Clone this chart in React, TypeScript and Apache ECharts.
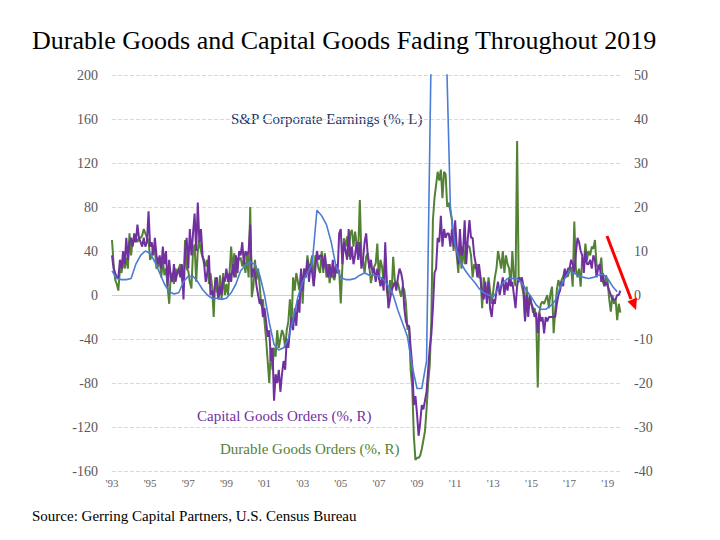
import React, { useEffect, useRef } from "react";
import * as echarts from "echarts";

// ---------- data ----------
const START_YEAR = 1993;
const X_MAX = 2019.7;
const xTickYears = [1993, 1995, 1997, 1999, 2001, 2003, 2005, 2007, 2009, 2011, 2013, 2015, 2017, 2019];

// S&P corporate earnings, % y/y (left axis), quarterly from 1993 Q1
const spEarnings = [
  22, 15, 14, 14,
  15, 28, 36, 40,
  38, 30, 20, 10,
  3, 1, 2, 12,
  17, 17, 12, 5,
  0, -3, -3, -4,
  -3, 2, 10, 22,
  27, 30, 28, 18,
  0, -25, -45, -50,
  -48, -40, -22, -2,
  12, 20, 28, 77,
  72, 64, 48, 26,
  16, 14, 14, 15,
  18, 20, 18, 18,
  17, 14, 8, 0,
  -14, -26, -38, -65,
  -85, -85, -60, 230,
  500, 450, 250, 80,
  45, 31, 23, 17,
  12, 6, 2, 0,
  -1.5, 5, 11, 15,
  15, 15, 11, 4,
  -2, -9, -13, -13,
  -10, -5, 7, 15,
  22, 20, 17, 16,
  15, 16, 18, 19,
  15, 8, 3,
];

// Capital goods orders, % y/y (right axis), monthly from Jan 1993
const capitalGoods = [
  9, 6, 5, 4, 4, 8, 6, 10, 7, 13, 8, 12,
  13, 11, 14, 12, 16, 13, 12, 11, 13, 11, 12, 19,
  11, 12, 9, 13, 9, 7, 9, 6, 11, 7, 10, 2,
  8, 4, 3, 7, 3, 5, 6, 4, 7, -1, 10, 13,
  6, 15, 9, 14, 18.5, 10, 21, 12, 15, 9, 7, 3,
  5, 9, 0, 1, -0.5, 3, 4, -1, 2, 0, 4, 3,
  6, 3, 5, 3, 7, 4, 9, 5, 10, 9, 12, 7,
  10, 9, 10, 16, 4, 6, 5, 2, 0, -2, -1, -5,
  -3, -6, -9.5, -8, -15, -12, -24, -18, -20, -17, -22, -18,
  -15, -17, -10, -12, -8, -5, -8, -3, -7, -1, -4, 6,
  1, 6, 4, 8, 3, 7, 5, 2, 6, 10, 8, 9,
  9, 6, 9, 6, 4, 7, 4, 8, 4, 7, 5, 14,
  15, 7, 12, 10, 8, 15, 8, 11, 7, 9, 12, 8,
  12, 6, 8, 12, 14, 9, 6, 8, 5, 6, 3, 6,
  4, 2, 4, 1, 12, 3, -3, -1, 1, 2, 3, 1,
  4, 6, 5, 3, -3, -6, -7, -7, -12, -16, -25, -23,
  -27, -32, -29, -25, -26, -24, -22, -17, -12, -9, -3, 5,
  6, 13, 12, 18, 11, 15, 13, 14, 14, 11, 15, 11,
  17, 11, 7, 15, 9, 10, 17, 7, 13, 17, 13, 13,
  9, 7, 4, 7, 4, 0, -1, 3, -2, 3, -3, -5,
  -1, -2, 1, 3, 0, 2, 4, 0, 3, 1, 4, 2,
  3, 0, -3, 2, 4, 3, 4, 2, -6, 0, -5, 0,
  -2, -3, -5, -4, -8.7, -4, -6, -5, -8.7, -5, -6, -5,
  -5, -5, -5, -5, -2, 0, 1, 3, 2, 6, 4, 6,
  6, 8, 7, 5, 9.5, 13, 12, 10, 9, 5, 10, 7,
  7, 8, 6, 9, 8, 4, 6, 7, 3, 5, 2, 3,
  2, 1, 0, -1, -1, -1, 0, 0, 1,
];

// Durable goods orders, % y/y (right axis), monthly from Jan 1993
const durableGoods = [
  12.5, 7, 3.5, 2.5, 1, 6, 5, 8, 6, 8.5, 6, 14,
  9, 12.5, 12, 13, 12, 13, 13, 13.5, 15, 14, 13, 12.5,
  8, 9, 11, 10.5, 6, 6.5, 8.5, 4, 8, 4.5, 6, 2,
  -2, 4.5, 5, 2.5, 6, 4.5, 6, 7, 3.5, 2, 12.5, 6,
  5.5, 3, 1.5, 10, 11.5, 3, 10, 12.5, 10, 8.5, 8, 6.5,
  8, 2.5, 5, 2, -5, 4, 1, -0.5, 4.5, -1, 5, 0,
  2.5, 0, 5, 11, 5.5, 9.5, 4, 8.5, 8, 8.5, 6.5, 8,
  5, 9, 4, 20, -0.5, 2, 8, 3.5, 6, 2, -2.5, -1,
  -6, -10, -15, -20, -12, -17, -12, -14, -8, -12, -10, -8,
  -9, -12, -8, -6, -1, -7, 4, 1, 5, 3, 1, 5.5,
  -2, 6, 4, 9, 6, 7, 9, 2, 9, 8, 6, 5,
  10, 5, 9.5, 4, 7, 2.7, 5.7, 4.2, 3.4, 5.7, 5, 5.7,
  -1.9, 6.4, 12.9, 11, 13.3, 8.7, 14, 14.8, 11, 14.4, 11.7, 10,
  21.6, 8.7, 8, 4.9, 8.7, 9.5, 6.4, 2.7, 4.9, 6.4, 7.2, 11.7,
  3.4, 8, 6.4, 2.7, 8.7, 1.1, -1.1, 3.4, 0.4, 8.7, 3.4, 2.7,
  2.7, 1.1, -0.4, 1.9, 1.1, -1.9, -7.9, -7.2, -17, -21, -32, -37.5,
  -37, -37, -36.5, -35, -33, -31, -26, -20, -16, -6, 17, 22,
  25, 28, 26, 28.5, 22, 28, 27.5, 20, 21, 19, 17, 10,
  13, 9, 5, 12, 6, 11, 7, 12, 11, 11, 9, 4,
  7, 6, 7, 4, 4, -3, 4, 2, -1, 4, 1, -2,
  1, 4, 6, 10, 8, 6, 10, 5, 9, 7, 6, 2,
  10, 4, 2, 35, 3, 4, 2, 0.4, -5.7, 1.9, -3.4, -0.4,
  -2, -4, -3, -5, -21, -4, -2, -1.5, -2, -1, 0, -3,
  0.4, 1.9, -8.7, -3.4, 1.1, 3.4, 1.9, 3.4, 4.2, 5.7, 4.9, 4.2,
  5.7, 6.4, 1.9, 16.7, 6, 4, 6, 1.9, 8.5, 7, 11.7, 8,
  10, 9, 11, 10.5, 12.5, 7, 6, 6, 8.5, 3, 2, 4.5,
  3, -1, -3.8, 0, -2, -1, -5.7, -2, -4,
];

const toPairs = (values: number[], perYear: number) =>
  values.map((v, i) => [START_YEAR + i / perYear, v]);

const SERIF = "'Liberation Serif', 'DejaVu Serif', serif";

export default function App() {
  const ref = useRef<HTMLDivElement>(null);

  useEffect(() => {
    document.body.style.margin = "0";
    if (!ref.current) return;
    const chart = echarts.init(ref.current, undefined, { renderer: "svg" });

    const axisLabelStyle = { color: "#595959", fontSize: 14, fontFamily: SERIF };

    chart.setOption({
      animation: false,
      backgroundColor: "#ffffff",
      title: {
        text: "Durable Goods and Capital Goods Fading Throughout 2019",
        left: 32,
        top: 27,
        padding: 0,
        textStyle: { fontFamily: SERIF, fontSize: 26, fontWeight: "normal", color: "#000000" },
      },
      grid: { left: 112, right: 99, top: 75, bottom: 69 },
      xAxis: {
        type: "value",
        min: START_YEAR,
        max: X_MAX,
        axisLine: { show: false },
        axisTick: { show: false },
        splitLine: { show: false },
        axisLabel: {
          customValues: xTickYears,
          formatter: (v: number) => "'" + String(Math.round(v)).slice(2),
          color: "#666666",
          fontSize: 11,
          fontFamily: SERIF,
          margin: 6,
        },
      },
      yAxis: [
        {
          type: "value",
          min: -160,
          max: 200,
          interval: 40,
          position: "left",
          axisLine: { show: false },
          axisTick: { show: false },
          splitLine: { lineStyle: { type: "dashed", color: "#d9d9d9", width: 1 } },
          axisLabel: { ...axisLabelStyle, margin: 14 },
        },
        {
          type: "value",
          min: -40,
          max: 50,
          interval: 10,
          position: "right",
          axisLine: { show: false },
          axisTick: { show: false },
          splitLine: { show: false },
          axisLabel: { ...axisLabelStyle, margin: 13 },
        },
      ],
      series: [
        {
          name: "Durable Goods Orders (%, R)",
          type: "line",
          yAxisIndex: 1,
          data: toPairs(durableGoods, 12),
          showSymbol: false,
          lineStyle: { color: "#548235", width: 2 },
          itemStyle: { color: "#548235" },
          z: 2,
        },
        {
          name: "Capital Goods Orders (%, R)",
          type: "line",
          yAxisIndex: 1,
          data: toPairs(capitalGoods, 12),
          showSymbol: false,
          lineStyle: { color: "#7030a0", width: 2 },
          itemStyle: { color: "#7030a0" },
          z: 3,
        },
        {
          name: "S&P Corporate Earnings (%, L)",
          type: "line",
          yAxisIndex: 0,
          data: toPairs(spEarnings, 4),
          showSymbol: false,
          lineStyle: { color: "#4a7dd3", width: 1.6 },
          itemStyle: { color: "#4a7dd3" },
          z: 4,
          markLine: {
            silent: true,
            symbol: "none",
            label: { show: false },
            lineStyle: { color: "#d0d0d0", type: "solid", width: 1 },
            data: [{ yAxis: 0 }],
            z: 1,
          },
        },
      ],
      graphic: [
        {
          type: "text",
          left: 231,
          top: 111,
          style: { text: "S&P Corporate Earnings (%, L)", fill: "#1f3864", font: `15px ${SERIF}` },
        },
        {
          type: "text",
          left: 197,
          top: 408,
          style: { text: "Capital Goods Orders (%, R)", fill: "#7030a0", font: `15px ${SERIF}` },
        },
        {
          type: "text",
          left: 220,
          top: 441,
          style: { text: "Durable Goods Orders (%, R)", fill: "#548235", font: `15px ${SERIF}` },
        },
        {
          type: "text",
          left: 32,
          top: 508,
          style: { text: "Source: Gerring Capital Partners, U.S. Census Bureau", fill: "#000000", font: `15px ${SERIF}` },
        },
        {
          type: "line",
          shape: { x1: 607, y1: 236, x2: 631, y2: 299 },
          style: { stroke: "#ff0000", lineWidth: 3 },
          z: 10,
        },
        {
          type: "polygon",
          shape: { points: [[636, 310], [627.5, 301.5], [637, 297.5]] },
          style: { fill: "#ff0000" },
          z: 10,
        },
      ],
    });

    return () => chart.dispose();
  }, []);

  return <div ref={ref} style={{ width: 720, height: 540 }} />;
}
